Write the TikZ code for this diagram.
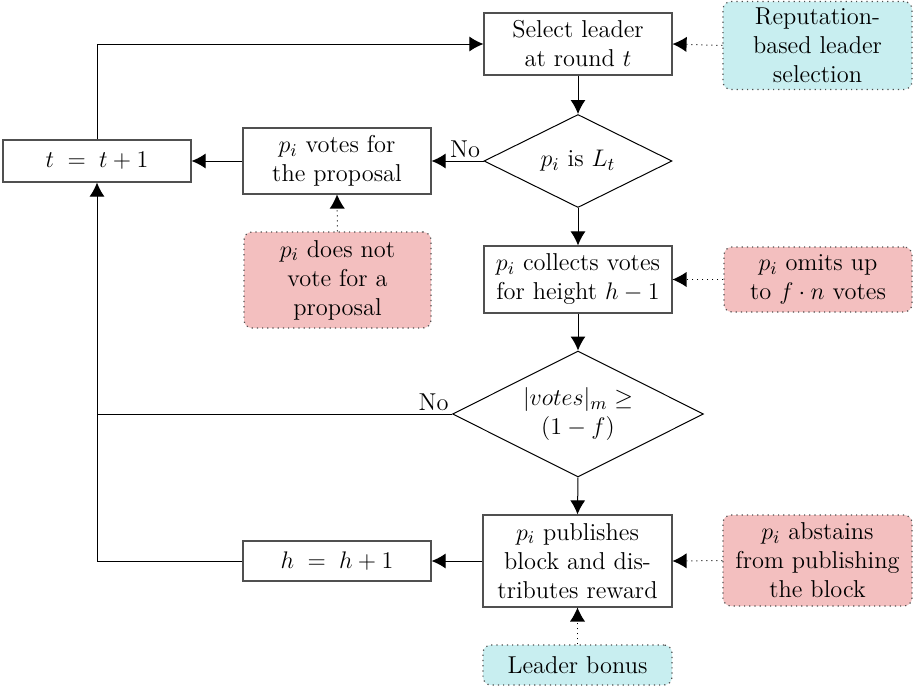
\documentclass[tikz,border=0pt]{standalone}
\usetikzlibrary{shapes.geometric,arrows.meta}
\definecolor{cyanbox}{RGB}{200,238,240}
\definecolor{pinkbox}{RGB}{243,191,191}
\definecolor{boxline}{RGB}{80,80,80}
\begin{document}
\begin{tikzpicture}[x=0.5pt,y=-0.5pt,
  every node/.style={font=\fontsize{12.2}{14.5}\selectfont},
  proc/.style={draw=boxline,line width=0.6pt,rectangle,inner sep=0pt,align=center,fill=white},
  dec/.style={draw=black,line width=0.5pt,diamond,aspect=2,inner sep=0pt,align=center},
  attack/.style={draw=boxline,dotted,line width=0.6pt,rounded corners=4pt,fill=pinkbox,inner sep=0pt,align=center},
  good/.style={draw=boxline,dotted,line width=0.6pt,rounded corners=4pt,fill=cyanbox,inner sep=0pt,align=center},
  flow/.style={draw=black,line width=0.5pt,-{Latex[length=7pt,width=7.5pt]}},
  plain/.style={draw=black,line width=0.5pt},
  infl/.style={draw=black,dotted,line width=0.5pt,-{Latex[length=7pt,width=7.5pt,fill=black,line width=0pt]}},
  nolabel/.style={anchor=south east,inner sep=1.5pt}]
\useasboundingbox (0,0) rectangle (923,691);
% nodes
\node[proc,minimum width=94pt,minimum height=31pt] (sel) at (578,44) {Select leader\\at round $t$};
\node[good,minimum width=94.5pt,minimum height=44pt] (rep) at (817.5,45.5) {Reputation-\\based leader\\selection};
\node[dec,minimum width=94pt,minimum height=46.5pt] (d1) at (578,161) {$p_i$ is $L_t$};
\node[proc,minimum width=94pt,minimum height=33pt] (vote) at (337,161) {$p_i$ votes for\\the proposal};
\node[proc,minimum width=94pt,minimum height=21pt] (tb) at (97,161) {$t\;=\;t+1$};
\node[attack,minimum width=93.5pt,minimum height=48pt] (dnv) at (337.5,280) {$p_i$ does not\\vote for a\\proposal};
\node[proc,minimum width=94pt,minimum height=33.5pt] (col) at (578,279.5) {$p_i$ collects votes\\for height $h-1$};
\node[attack,minimum width=94pt,minimum height=32.5pt] (om) at (818,279.5) {$p_i$ omits up\\to $f\cdot n$ votes};
\node[dec,minimum width=125.5pt,minimum height=63pt] (d2) at (578,414) {$|votes|_m \geq$\\$(1-f)$};
\node[proc,minimum width=94.5pt,minimum height=46pt] (pub) at (577.5,561) {$p_i$ publishes\\block and dis-\\tributes reward};
\node[proc,minimum width=94pt,minimum height=20pt] (hb) at (337,561) {$h\;=\;h+1$};
\node[attack,minimum width=94.5pt,minimum height=45.5pt] (ab) at (817.5,560.5) {$p_i$ abstains\\from publishing\\the block};
\node[good,minimum width=94.5pt,minimum height=20pt] (lb) at (577.5,665) {Leader bonus};
\coordinate (j1) at (97,561);
\coordinate (j2) at (97,414);
% connectors
\draw[flow] (tb.north) |- (sel.west);
\draw[flow] (sel.south) -- (d1.north);
\draw[flow] (d1.west) -- (vote.east);
\node[nolabel] (no1) at (d1.west) {No};
\draw[flow] (vote.west) -- (tb.east);
\draw[infl] (dnv.north) -- (vote.south);
\draw[infl] (rep.west) -- (sel.east);
\draw[flow] (d1.south) -- (col.north);
\draw[infl] (om.west) -- (col.east);
\draw[flow] (col.south) -- (d2.north);
\draw[plain] (d2.west) -- (j2);
\node[nolabel] (no2) at (d2.west) {No};
\draw[flow] (d2.south) -- (pub.north);
\draw[flow] (pub.west) -- (hb.east);
\draw[flow] (hb.west) -- (j1) -- (tb.south);
\draw[infl] (ab.west) -- (pub.east);
\draw[infl] (lb.north) -- (pub.south);
\end{tikzpicture}
\end{document}
